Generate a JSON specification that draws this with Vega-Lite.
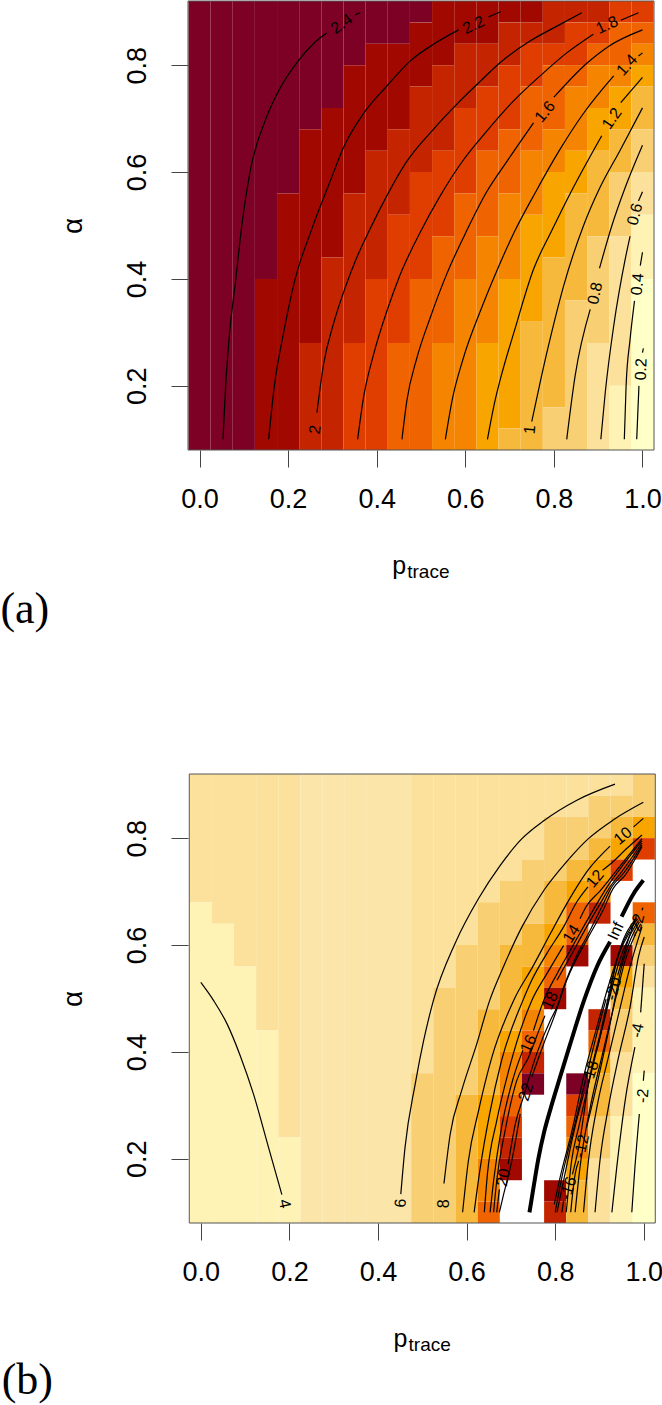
{"$schema":"https://vega.github.io/schema/vega-lite/v6.json","padding":{"left":0,"top":0,"right":0,"bottom":0},"background":"white","spacing":141,
"config":{"view":{"stroke":null},"axis":{"grid":false,"domain":false,"tickSize":17,"tickWidth":1,"tickColor":"#444","labelFont":"Liberation Sans","labelFontSize":27,"labelColor":"#000","titleFont":"Liberation Sans","titleFontWeight":"normal","titleFontSize":28,"titleColor":"#000"}},
"datasets":{
"cellsA":[
{"p0":-0.025,"p1":0.025,"a0":0.08,"a1":0.92,"z":"L01"},{"p0":0.025,"p1":0.075,"a0":0.08,"a1":0.92,"z":"L01"},{"p0":0.075,"p1":0.125,"a0":0.08,"a1":0.92,"z":"L01"},
{"p0":0.125,"p1":0.175,"a0":0.40,"a1":0.92,"z":"L01"},{"p0":0.125,"p1":0.175,"a0":0.08,"a1":0.40,"z":"L02"},
{"p0":0.175,"p1":0.225,"a0":0.56,"a1":0.92,"z":"L01"},{"p0":0.175,"p1":0.225,"a0":0.08,"a1":0.56,"z":"L02"},
{"p0":0.225,"p1":0.275,"a0":0.68,"a1":0.92,"z":"L01"},{"p0":0.225,"p1":0.275,"a0":0.28,"a1":0.68,"z":"L02"},{"p0":0.225,"p1":0.275,"a0":0.08,"a1":0.28,"z":"L03"},
{"p0":0.275,"p1":0.325,"a0":0.72,"a1":0.92,"z":"L01"},{"p0":0.275,"p1":0.325,"a0":0.44,"a1":0.72,"z":"L02"},{"p0":0.275,"p1":0.325,"a0":0.08,"a1":0.44,"z":"L03"},
{"p0":0.325,"p1":0.375,"a0":0.80,"a1":0.92,"z":"L01"},{"p0":0.325,"p1":0.375,"a0":0.56,"a1":0.80,"z":"L02"},{"p0":0.325,"p1":0.375,"a0":0.28,"a1":0.56,"z":"L03"},{"p0":0.325,"p1":0.375,"a0":0.08,"a1":0.28,"z":"L04"},
{"p0":0.375,"p1":0.425,"a0":0.84,"a1":0.92,"z":"L01"},{"p0":0.375,"p1":0.425,"a0":0.64,"a1":0.84,"z":"L02"},{"p0":0.375,"p1":0.425,"a0":0.40,"a1":0.64,"z":"L03"},{"p0":0.375,"p1":0.425,"a0":0.08,"a1":0.40,"z":"L04"},
{"p0":0.425,"p1":0.475,"a0":0.84,"a1":0.92,"z":"L01"},{"p0":0.425,"p1":0.475,"a0":0.68,"a1":0.84,"z":"L02"},{"p0":0.425,"p1":0.475,"a0":0.52,"a1":0.68,"z":"L03"},{"p0":0.425,"p1":0.475,"a0":0.28,"a1":0.52,"z":"L04"},{"p0":0.425,"p1":0.475,"a0":0.08,"a1":0.28,"z":"L05"},
{"p0":0.475,"p1":0.525,"a0":0.88,"a1":0.92,"z":"L01"},{"p0":0.475,"p1":0.525,"a0":0.76,"a1":0.88,"z":"L02"},{"p0":0.475,"p1":0.525,"a0":0.60,"a1":0.76,"z":"L03"},{"p0":0.475,"p1":0.525,"a0":0.40,"a1":0.60,"z":"L04"},{"p0":0.475,"p1":0.525,"a0":0.08,"a1":0.40,"z":"L05"},
{"p0":0.525,"p1":0.575,"a0":0.80,"a1":0.92,"z":"L02"},{"p0":0.525,"p1":0.575,"a0":0.64,"a1":0.80,"z":"L03"},{"p0":0.525,"p1":0.575,"a0":0.48,"a1":0.64,"z":"L04"},{"p0":0.525,"p1":0.575,"a0":0.28,"a1":0.48,"z":"L05"},{"p0":0.525,"p1":0.575,"a0":0.08,"a1":0.28,"z":"L06"},
{"p0":0.575,"p1":0.625,"a0":0.84,"a1":0.92,"z":"L02"},{"p0":0.575,"p1":0.625,"a0":0.72,"a1":0.84,"z":"L03"},{"p0":0.575,"p1":0.625,"a0":0.56,"a1":0.72,"z":"L04"},{"p0":0.575,"p1":0.625,"a0":0.40,"a1":0.56,"z":"L05"},{"p0":0.575,"p1":0.625,"a0":0.08,"a1":0.40,"z":"L06"},
{"p0":0.625,"p1":0.675,"a0":0.84,"a1":0.92,"z":"L02"},{"p0":0.625,"p1":0.675,"a0":0.76,"a1":0.84,"z":"L03"},{"p0":0.625,"p1":0.675,"a0":0.64,"a1":0.76,"z":"L04"},{"p0":0.625,"p1":0.675,"a0":0.48,"a1":0.64,"z":"L05"},{"p0":0.625,"p1":0.675,"a0":0.28,"a1":0.48,"z":"L06"},{"p0":0.625,"p1":0.675,"a0":0.08,"a1":0.28,"z":"L07"},
{"p0":0.675,"p1":0.725,"a0":0.88,"a1":0.92,"z":"L02"},{"p0":0.675,"p1":0.725,"a0":0.80,"a1":0.88,"z":"L03"},{"p0":0.675,"p1":0.725,"a0":0.68,"a1":0.80,"z":"L04"},{"p0":0.675,"p1":0.725,"a0":0.56,"a1":0.68,"z":"L05"},{"p0":0.675,"p1":0.725,"a0":0.40,"a1":0.56,"z":"L06"},{"p0":0.675,"p1":0.725,"a0":0.12,"a1":0.40,"z":"L07"},{"p0":0.675,"p1":0.725,"a0":0.08,"a1":0.12,"z":"L08"},
{"p0":0.725,"p1":0.775,"a0":0.88,"a1":0.92,"z":"L02"},{"p0":0.725,"p1":0.775,"a0":0.84,"a1":0.88,"z":"L03"},{"p0":0.725,"p1":0.775,"a0":0.76,"a1":0.84,"z":"L04"},{"p0":0.725,"p1":0.775,"a0":0.64,"a1":0.76,"z":"L05"},{"p0":0.725,"p1":0.775,"a0":0.52,"a1":0.64,"z":"L06"},{"p0":0.725,"p1":0.775,"a0":0.32,"a1":0.52,"z":"L07"},{"p0":0.725,"p1":0.775,"a0":0.08,"a1":0.32,"z":"L08"},
{"p0":0.775,"p1":0.825,"a0":0.84,"a1":0.92,"z":"L03"},{"p0":0.775,"p1":0.825,"a0":0.80,"a1":0.84,"z":"L04"},{"p0":0.775,"p1":0.825,"a0":0.68,"a1":0.80,"z":"L05"},{"p0":0.775,"p1":0.825,"a0":0.60,"a1":0.68,"z":"L06"},{"p0":0.775,"p1":0.825,"a0":0.44,"a1":0.60,"z":"L07"},{"p0":0.775,"p1":0.825,"a0":0.16,"a1":0.44,"z":"L08"},{"p0":0.775,"p1":0.825,"a0":0.08,"a1":0.16,"z":"L09"},
{"p0":0.825,"p1":0.875,"a0":0.88,"a1":0.92,"z":"L03"},{"p0":0.825,"p1":0.875,"a0":0.80,"a1":0.88,"z":"L04"},{"p0":0.825,"p1":0.875,"a0":0.76,"a1":0.80,"z":"L05"},{"p0":0.825,"p1":0.875,"a0":0.64,"a1":0.76,"z":"L06"},{"p0":0.825,"p1":0.875,"a0":0.56,"a1":0.64,"z":"L07"},{"p0":0.825,"p1":0.875,"a0":0.36,"a1":0.56,"z":"L08"},{"p0":0.825,"p1":0.875,"a0":0.08,"a1":0.36,"z":"L09"},
{"p0":0.875,"p1":0.925,"a0":0.88,"a1":0.92,"z":"L03"},{"p0":0.875,"p1":0.925,"a0":0.84,"a1":0.88,"z":"L04"},{"p0":0.875,"p1":0.925,"a0":0.80,"a1":0.84,"z":"L05"},{"p0":0.875,"p1":0.925,"a0":0.72,"a1":0.80,"z":"L06"},{"p0":0.875,"p1":0.925,"a0":0.64,"a1":0.72,"z":"L07"},{"p0":0.875,"p1":0.925,"a0":0.48,"a1":0.64,"z":"L08"},{"p0":0.875,"p1":0.925,"a0":0.28,"a1":0.48,"z":"L09"},{"p0":0.875,"p1":0.925,"a0":0.08,"a1":0.28,"z":"L10"},
{"p0":0.925,"p1":0.975,"a0":0.88,"a1":0.92,"z":"L04"},{"p0":0.925,"p1":0.975,"a0":0.80,"a1":0.88,"z":"L05"},{"p0":0.925,"p1":0.975,"a0":0.76,"a1":0.80,"z":"L06"},{"p0":0.925,"p1":0.975,"a0":0.68,"a1":0.76,"z":"L07"},{"p0":0.925,"p1":0.975,"a0":0.60,"a1":0.68,"z":"L08"},{"p0":0.925,"p1":0.975,"a0":0.48,"a1":0.60,"z":"L09"},{"p0":0.925,"p1":0.975,"a0":0.20,"a1":0.48,"z":"L10"},{"p0":0.925,"p1":0.975,"a0":0.08,"a1":0.20,"z":"L11"},
{"p0":0.975,"p1":1.025,"a0":0.88,"a1":0.92,"z":"L04"},{"p0":0.975,"p1":1.025,"a0":0.84,"a1":0.88,"z":"L05"},{"p0":0.975,"p1":1.025,"a0":0.80,"a1":0.84,"z":"L06"},{"p0":0.975,"p1":1.025,"a0":0.76,"a1":0.80,"z":"L07"},{"p0":0.975,"p1":1.025,"a0":0.68,"a1":0.76,"z":"L08"},{"p0":0.975,"p1":1.025,"a0":0.60,"a1":0.68,"z":"L09"},{"p0":0.975,"p1":1.025,"a0":0.52,"a1":0.60,"z":"L10"},{"p0":0.975,"p1":1.025,"a0":0.40,"a1":0.52,"z":"L11"},{"p0":0.975,"p1":1.025,"a0":0.08,"a1":0.40,"z":"L12"}
],
"cellsB":[
{"p0":-0.025,"p1":0.025,"a0":0.68,"a1":0.92,"z":"L10"},{"p0":-0.025,"p1":0.025,"a0":0.08,"a1":0.68,"z":"L11"},
{"p0":0.025,"p1":0.075,"a0":0.64,"a1":0.92,"z":"L10"},{"p0":0.025,"p1":0.075,"a0":0.08,"a1":0.64,"z":"L11"},
{"p0":0.075,"p1":0.125,"a0":0.56,"a1":0.92,"z":"L10"},{"p0":0.075,"p1":0.125,"a0":0.08,"a1":0.56,"z":"L11"},
{"p0":0.125,"p1":0.175,"a0":0.44,"a1":0.92,"z":"L10"},{"p0":0.125,"p1":0.175,"a0":0.08,"a1":0.44,"z":"L11"},
{"p0":0.175,"p1":0.225,"a0":0.24,"a1":0.92,"z":"L10"},{"p0":0.175,"p1":0.225,"a0":0.08,"a1":0.24,"z":"L11"},
{"p0":0.225,"p1":0.275,"a0":0.08,"a1":0.92,"z":"L10b"},{"p0":0.275,"p1":0.325,"a0":0.08,"a1":0.92,"z":"L10b"},{"p0":0.325,"p1":0.375,"a0":0.08,"a1":0.92,"z":"L10b"},{"p0":0.375,"p1":0.425,"a0":0.08,"a1":0.92,"z":"L10b"},{"p0":0.425,"p1":0.475,"a0":0.08,"a1":0.92,"z":"L10b"},
{"p0":0.475,"p1":0.525,"a0":0.36,"a1":0.92,"z":"L10"},{"p0":0.475,"p1":0.525,"a0":0.08,"a1":0.36,"z":"L09"},
{"p0":0.525,"p1":0.575,"a0":0.52,"a1":0.92,"z":"L10"},{"p0":0.525,"p1":0.575,"a0":0.08,"a1":0.52,"z":"L09"},
{"p0":0.575,"p1":0.625,"a0":0.60,"a1":0.92,"z":"L10"},{"p0":0.575,"p1":0.625,"a0":0.32,"a1":0.60,"z":"L09"},{"p0":0.575,"p1":0.625,"a0":0.08,"a1":0.32,"z":"L08"},
{"p0":0.625,"p1":0.675,"a0":0.68,"a1":0.92,"z":"L10"},{"p0":0.625,"p1":0.675,"a0":0.48,"a1":0.68,"z":"L09"},{"p0":0.625,"p1":0.675,"a0":0.32,"a1":0.48,"z":"L08"},{"p0":0.625,"p1":0.675,"a0":0.20,"a1":0.32,"z":"L07"},{"p0":0.625,"p1":0.675,"a0":0.12,"a1":0.20,"z":"L06"},{"p0":0.625,"p1":0.675,"a0":0.08,"a1":0.12,"z":"L05"},
{"p0":0.675,"p1":0.725,"a0":0.72,"a1":0.92,"z":"L10"},{"p0":0.675,"p1":0.725,"a0":0.60,"a1":0.72,"z":"L09"},{"p0":0.675,"p1":0.725,"a0":0.44,"a1":0.60,"z":"L08"},{"p0":0.675,"p1":0.725,"a0":0.40,"a1":0.44,"z":"L07"},{"p0":0.675,"p1":0.725,"a0":0.32,"a1":0.40,"z":"L06"},{"p0":0.675,"p1":0.725,"a0":0.28,"a1":0.32,"z":"L05"},{"p0":0.675,"p1":0.725,"a0":0.24,"a1":0.28,"z":"L04"},{"p0":0.675,"p1":0.725,"a0":0.20,"a1":0.24,"z":"L03"},{"p0":0.675,"p1":0.725,"a0":0.16,"a1":0.20,"z":"L02"},
{"p0":0.725,"p1":0.775,"a0":0.76,"a1":0.92,"z":"L10"},{"p0":0.725,"p1":0.775,"a0":0.64,"a1":0.76,"z":"L09"},{"p0":0.725,"p1":0.775,"a0":0.56,"a1":0.64,"z":"L08"},{"p0":0.725,"p1":0.775,"a0":0.48,"a1":0.56,"z":"L07"},{"p0":0.725,"p1":0.775,"a0":0.44,"a1":0.48,"z":"L06"},{"p0":0.725,"p1":0.775,"a0":0.40,"a1":0.44,"z":"L05"},{"p0":0.725,"p1":0.775,"a0":0.36,"a1":0.40,"z":"L03"},{"p0":0.725,"p1":0.775,"a0":0.32,"a1":0.36,"z":"L01"},
{"p0":0.775,"p1":0.825,"a0":0.84,"a1":0.92,"z":"L10"},{"p0":0.775,"p1":0.825,"a0":0.72,"a1":0.84,"z":"L09"},{"p0":0.775,"p1":0.825,"a0":0.64,"a1":0.72,"z":"L08"},{"p0":0.775,"p1":0.825,"a0":0.60,"a1":0.64,"z":"L07"},{"p0":0.775,"p1":0.825,"a0":0.56,"a1":0.60,"z":"L06"},{"p0":0.775,"p1":0.825,"a0":0.52,"a1":0.56,"z":"L05"},{"p0":0.775,"p1":0.825,"a0":0.48,"a1":0.52,"z":"L02"},{"p0":0.775,"p1":0.825,"a0":0.12,"a1":0.16,"z":"L02"},{"p0":0.775,"p1":0.825,"a0":0.08,"a1":0.12,"z":"L03"},
{"p0":0.825,"p1":0.875,"a0":0.84,"a1":0.92,"z":"L10"},{"p0":0.825,"p1":0.875,"a0":0.76,"a1":0.84,"z":"L09"},{"p0":0.825,"p1":0.875,"a0":0.72,"a1":0.76,"z":"L08"},{"p0":0.825,"p1":0.875,"a0":0.68,"a1":0.72,"z":"L07"},{"p0":0.825,"p1":0.875,"a0":0.60,"a1":0.68,"z":"L05"},{"p0":0.825,"p1":0.875,"a0":0.56,"a1":0.60,"z":"L02"},{"p0":0.825,"p1":0.875,"a0":0.32,"a1":0.36,"z":"L01"},{"p0":0.825,"p1":0.875,"a0":0.28,"a1":0.32,"z":"L04"},{"p0":0.825,"p1":0.875,"a0":0.24,"a1":0.28,"z":"L05"},{"p0":0.825,"p1":0.875,"a0":0.20,"a1":0.24,"z":"L06"},{"p0":0.825,"p1":0.875,"a0":0.16,"a1":0.20,"z":"L07"},{"p0":0.825,"p1":0.875,"a0":0.08,"a1":0.16,"z":"L08"},
{"p0":0.875,"p1":0.925,"a0":0.88,"a1":0.92,"z":"L10"},{"p0":0.875,"p1":0.925,"a0":0.80,"a1":0.88,"z":"L09"},{"p0":0.875,"p1":0.925,"a0":0.76,"a1":0.80,"z":"L08"},{"p0":0.875,"p1":0.925,"a0":0.72,"a1":0.76,"z":"L07"},{"p0":0.875,"p1":0.925,"a0":0.68,"a1":0.72,"z":"L06"},{"p0":0.875,"p1":0.925,"a0":0.64,"a1":0.68,"z":"L03"},{"p0":0.875,"p1":0.925,"a0":0.44,"a1":0.48,"z":"L03"},{"p0":0.875,"p1":0.925,"a0":0.40,"a1":0.44,"z":"L05"},{"p0":0.875,"p1":0.925,"a0":0.36,"a1":0.40,"z":"L07"},{"p0":0.875,"p1":0.925,"a0":0.28,"a1":0.36,"z":"L08"},{"p0":0.875,"p1":0.925,"a0":0.20,"a1":0.28,"z":"L09"},{"p0":0.875,"p1":0.925,"a0":0.08,"a1":0.20,"z":"L10"},
{"p0":0.925,"p1":0.975,"a0":0.88,"a1":0.92,"z":"L10"},{"p0":0.925,"p1":0.975,"a0":0.84,"a1":0.88,"z":"L09"},{"p0":0.925,"p1":0.975,"a0":0.80,"a1":0.84,"z":"L08"},{"p0":0.925,"p1":0.975,"a0":0.76,"a1":0.80,"z":"L07"},{"p0":0.925,"p1":0.975,"a0":0.72,"a1":0.76,"z":"L04"},{"p0":0.925,"p1":0.975,"a0":0.56,"a1":0.60,"z":"L02"},{"p0":0.925,"p1":0.975,"a0":0.52,"a1":0.56,"z":"L07"},{"p0":0.925,"p1":0.975,"a0":0.48,"a1":0.52,"z":"L08"},{"p0":0.925,"p1":0.975,"a0":0.40,"a1":0.48,"z":"L09"},{"p0":0.925,"p1":0.975,"a0":0.28,"a1":0.40,"z":"L10"},{"p0":0.925,"p1":0.975,"a0":0.08,"a1":0.28,"z":"L11"},
{"p0":0.975,"p1":1.025,"a0":0.84,"a1":0.92,"z":"L09"},{"p0":0.975,"p1":1.025,"a0":0.80,"a1":0.84,"z":"L07"},{"p0":0.975,"p1":1.025,"a0":0.76,"a1":0.80,"z":"L04"},{"p0":0.975,"p1":1.025,"a0":0.64,"a1":0.68,"z":"L05"},{"p0":0.975,"p1":1.025,"a0":0.60,"a1":0.64,"z":"L08"},{"p0":0.975,"p1":1.025,"a0":0.56,"a1":0.60,"z":"L09"},{"p0":0.975,"p1":1.025,"a0":0.52,"a1":0.56,"z":"L10"},{"p0":0.975,"p1":1.025,"a0":0.36,"a1":0.52,"z":"L11"},{"p0":0.975,"p1":1.025,"a0":0.08,"a1":0.36,"z":"L12"}
],
"linesA":[
{"c":"2.4a","p":0.053,"a":0.1},{"c":"2.4a","p":0.059,"a":0.2},{"c":"2.4a","p":0.068,"a":0.3},{"c":"2.4a","p":0.082,"a":0.4},{"c":"2.4a","p":0.094,"a":0.49},{"c":"2.4a","p":0.114,"a":0.6},{"c":"2.4a","p":0.15,"a":0.7},{"c":"2.4a","p":0.182,"a":0.757},{"c":"2.4a","p":0.223,"a":0.808},{"c":"2.4a","p":0.257,"a":0.84},{"c":"2.4a","p":0.287,"a":0.86},
{"c":"2.4b","p":0.351,"a":0.894},{"c":"2.4b","p":0.363,"a":0.898},
{"c":"2.2a","p":0.156,"a":0.1},{"c":"2.2a","p":0.169,"a":0.2},{"c":"2.2a","p":0.19,"a":0.3},{"c":"2.2a","p":0.216,"a":0.4},{"c":"2.2a","p":0.252,"a":0.49},{"c":"2.2a","p":0.296,"a":0.585},{"c":"2.2a","p":0.325,"a":0.646},{"c":"2.2a","p":0.374,"a":0.714},{"c":"2.2a","p":0.423,"a":0.761},{"c":"2.2a","p":0.476,"a":0.808},{"c":"2.2a","p":0.528,"a":0.839},{"c":"2.2a","p":0.585,"a":0.866},
{"c":"2.2b","p":0.652,"a":0.89},{"c":"2.2b","p":0.68,"a":0.9},
{"c":"2","p":0.265,"a":0.15},{"c":"2","p":0.28,"a":0.24},{"c":"2","p":0.302,"a":0.315},{"c":"2","p":0.329,"a":0.384},{"c":"2","p":0.355,"a":0.44},{"c":"2","p":0.383,"a":0.49},{"c":"2","p":0.413,"a":0.54},{"c":"2","p":0.468,"a":0.62},{"c":"2","p":0.528,"a":0.68},{"c":"2","p":0.581,"a":0.727},{"c":"2","p":0.634,"a":0.77},{"c":"2","p":0.679,"a":0.805},{"c":"2","p":0.746,"a":0.845},{"c":"2","p":0.807,"a":0.873},{"c":"2","p":0.863,"a":0.898},
{"c":"1.8a","p":0.357,"a":0.1},{"c":"1.8a","p":0.369,"a":0.172},{"c":"1.8a","p":0.393,"a":0.259},{"c":"1.8a","p":0.423,"a":0.34},{"c":"1.8a","p":0.452,"a":0.406},{"c":"1.8a","p":0.5,"a":0.49},{"c":"1.8a","p":0.543,"a":0.555},{"c":"1.8a","p":0.596,"a":0.623},{"c":"1.8a","p":0.649,"a":0.677},{"c":"1.8a","p":0.709,"a":0.733},{"c":"1.8a","p":0.769,"a":0.78},{"c":"1.8a","p":0.829,"a":0.823},{"c":"1.8a","p":0.889,"a":0.858},
{"c":"1.8b","p":0.951,"a":0.884},{"c":"1.8b","p":0.991,"a":0.898},
{"c":"1.6a","p":0.457,"a":0.1},{"c":"1.6a","p":0.468,"a":0.172},{"c":"1.6a","p":0.491,"a":0.253},{"c":"1.6a","p":0.521,"a":0.328},{"c":"1.6a","p":0.558,"a":0.409},{"c":"1.6a","p":0.603,"a":0.49},{"c":"1.6a","p":0.649,"a":0.564},{"c":"1.6a","p":0.694,"a":0.62},{"c":"1.6a","p":0.754,"a":0.692},
{"c":"1.6b","p":0.8,"a":0.74},{"c":"1.6b","p":0.875,"a":0.804},{"c":"1.6b","p":0.925,"a":0.836},{"c":"1.6b","p":1.0,"a":0.866},
{"c":"1.4a","p":0.555,"a":0.1},{"c":"1.4a","p":0.57,"a":0.172},{"c":"1.4a","p":0.596,"a":0.253},{"c":"1.4a","p":0.634,"a":0.34},{"c":"1.4a","p":0.671,"a":0.415},{"c":"1.4a","p":0.712,"a":0.49},{"c":"1.4a","p":0.757,"a":0.56},{"c":"1.4a","p":0.812,"a":0.64},{"c":"1.4a","p":0.867,"a":0.71},{"c":"1.4a","p":0.935,"a":0.78},
{"c":"1.4b","p":0.991,"a":0.817},{"c":"1.4b","p":1.0,"a":0.823},
{"c":"1.2a","p":0.65,"a":0.1},{"c":"1.2a","p":0.667,"a":0.172},{"c":"1.2a","p":0.679,"a":0.212},{"c":"1.2a","p":0.712,"a":0.306},{"c":"1.2a","p":0.754,"a":0.418},{"c":"1.2a","p":0.795,"a":0.49},{"c":"1.2a","p":0.84,"a":0.565},{"c":"1.2a","p":0.908,"a":0.668},
{"c":"1.2b","p":0.951,"a":0.73},{"c":"1.2b","p":1.0,"a":0.777},
{"c":"1","p":0.75,"a":0.133},{"c":"1","p":0.773,"a":0.222},{"c":"1","p":0.795,"a":0.3},{"c":"1","p":0.822,"a":0.387},{"c":"1","p":0.867,"a":0.5},{"c":"1","p":0.904,"a":0.571},{"c":"1","p":0.949,"a":0.64},{"c":"1","p":1.0,"a":0.72},
{"c":"0.8a","p":0.829,"a":0.1},{"c":"0.8a","p":0.848,"a":0.219},{"c":"0.8a","p":0.882,"a":0.343},
{"c":"0.8b","p":0.903,"a":0.42},{"c":"0.8b","p":0.931,"a":0.5},{"c":"0.8b","p":0.961,"a":0.571},{"c":"0.8b","p":1.0,"a":0.65},
{"c":"0.6a","p":0.906,"a":0.1},{"c":"0.6a","p":0.916,"a":0.188},{"c":"0.6a","p":0.935,"a":0.312},{"c":"0.6a","p":0.961,"a":0.437},{"c":"0.6a","p":0.972,"a":0.48},
{"c":"0.6b","p":0.991,"a":0.546},{"c":"0.6b","p":1.0,"a":0.563},
{"c":"0.4a","p":0.959,"a":0.1},{"c":"0.4a","p":0.963,"a":0.2},{"c":"0.4a","p":0.972,"a":0.287},{"c":"0.4a","p":0.982,"a":0.359},
{"c":"0.4b","p":0.995,"a":0.425},{"c":"0.4b","p":1.0,"a":0.45},
{"c":"0.2a","p":0.987,"a":0.1},{"c":"0.2a","p":0.992,"a":0.2},
{"c":"0.2b","p":1.0,"a":0.262},{"c":"0.2b","p":1.002,"a":0.27}
],
"labelsA":[
{"t":"2.4","p":0.321,"a":0.877,"ang":-35},{"t":"2.2","p":0.619,"a":0.875,"ang":-25},{"t":"2","p":0.261,"a":0.118,"ang":-82},{"t":"1.8","p":0.92,"a":0.875,"ang":-25},{"t":"1.6","p":0.78,"a":0.713,"ang":-50},{"t":"1.4","p":0.965,"a":0.8,"ang":-48},{"t":"1.2","p":0.931,"a":0.7,"ang":-55},{"t":"1","p":0.746,"a":0.118,"ang":-85},{"t":"0.8","p":0.893,"a":0.373,"ang":-78},{"t":"0.6","p":0.983,"a":0.521,"ang":-75},{"t":"0.4","p":0.989,"a":0.39,"ang":-85},{"t":"0.2","p":0.997,"a":0.231,"ang":-88}
],
"linesB":[
{"c":"4","p":0.0,"a":0.53},{"c":"4","p":0.029,"a":0.496},{"c":"4","p":0.059,"a":0.453},{"c":"4","p":0.089,"a":0.393},{"c":"4","p":0.119,"a":0.321},{"c":"4","p":0.153,"a":0.221},{"c":"4","p":0.183,"a":0.133},
{"c":"6","p":0.4515,"a":0.134},{"c":"6","p":0.461,"a":0.221},{"c":"6","p":0.484,"a":0.34},{"c":"6","p":0.503,"a":0.421},{"c":"6","p":0.525,"a":0.496},{"c":"6","p":0.574,"a":0.603},{"c":"6","p":0.627,"a":0.687},{"c":"6","p":0.676,"a":0.749},{"c":"6","p":0.725,"a":0.799},{"c":"6","p":0.775,"a":0.833},{"c":"6","p":0.849,"a":0.871},{"c":"6","p":0.935,"a":0.901},
{"c":"8","p":0.549,"a":0.154},{"c":"8","p":0.563,"a":0.246},{"c":"8","p":0.589,"a":0.328},{"c":"8","p":0.623,"a":0.415},{"c":"8","p":0.652,"a":0.496},{"c":"8","p":0.683,"a":0.559},{"c":"8","p":0.725,"a":0.634},{"c":"8","p":0.775,"a":0.703},{"c":"8","p":0.826,"a":0.756},{"c":"8","p":0.875,"a":0.799},{"c":"8","p":0.931,"a":0.834},{"c":"8","p":0.999,"a":0.867},
{"c":"10a","p":0.591,"a":0.1},{"c":"10a","p":0.604,"a":0.196},{"c":"10a","p":0.627,"a":0.29},{"c":"10a","p":0.657,"a":0.39},{"c":"10a","p":0.706,"a":0.496},{"c":"10a","p":0.751,"a":0.562},{"c":"10a","p":0.789,"a":0.621},{"c":"10a","p":0.826,"a":0.677},{"c":"10a","p":0.875,"a":0.741},{"c":"10a","p":0.924,"a":0.785},
{"c":"10b","p":0.977,"a":0.821},{"c":"10b","p":0.999,"a":0.837},
{"c":"12a","p":0.617,"a":0.1},{"c":"12a","p":0.631,"a":0.184},{"c":"12a","p":0.652,"a":0.284},{"c":"12a","p":0.679,"a":0.384},{"c":"12a","p":0.727,"a":0.496},{"c":"12a","p":0.747,"a":0.534},{"c":"12a","p":0.781,"a":0.584},{"c":"12a","p":0.819,"a":0.634},{"c":"12a","p":0.849,"a":0.681},{"c":"12a","p":0.874,"a":0.709},
{"c":"12b","p":0.907,"a":0.74},{"c":"12b","p":0.924,"a":0.751},{"c":"12b","p":0.962,"a":0.781},{"c":"12b","p":0.996,"a":0.806},
{"c":"14a","p":0.64,"a":0.1},{"c":"14a","p":0.647,"a":0.171},{"c":"14a","p":0.668,"a":0.271},{"c":"14a","p":0.695,"a":0.365},{"c":"14a","p":0.747,"a":0.496},{"c":"14a","p":0.781,"a":0.546},{"c":"14a","p":0.819,"a":0.599},
{"c":"14b","p":0.856,"a":0.649},{"c":"14b","p":0.87,"a":0.672},{"c":"14b","p":0.902,"a":0.702},{"c":"14b","p":0.939,"a":0.74},{"c":"14b","p":0.996,"a":0.799},
{"c":"16a","p":0.653,"a":0.1},{"c":"16a","p":0.661,"a":0.159},{"c":"16a","p":0.679,"a":0.259},{"c":"16a","p":0.706,"a":0.353},{"c":"16a","p":0.727,"a":0.403},
{"c":"16b","p":0.751,"a":0.44},{"c":"16b","p":0.774,"a":0.496},{"c":"16b","p":0.804,"a":0.546},{"c":"16b","p":0.834,"a":0.59},{"c":"16b","p":0.868,"a":0.64},{"c":"16b","p":0.894,"a":0.677},{"c":"16b","p":0.92,"a":0.712},{"c":"16b","p":0.947,"a":0.743},{"c":"16b","p":0.996,"a":0.795},
{"c":"18a","p":0.661,"a":0.1},{"c":"18a","p":0.668,"a":0.159},{"c":"18a","p":0.687,"a":0.253},{"c":"18a","p":0.713,"a":0.346},{"c":"18a","p":0.74,"a":0.39},{"c":"18a","p":0.766,"a":0.446},{"c":"18a","p":0.777,"a":0.468},
{"c":"18b","p":0.804,"a":0.534},{"c":"18b","p":0.834,"a":0.578},{"c":"18b","p":0.871,"a":0.634},{"c":"18b","p":0.902,"a":0.678},{"c":"18b","p":0.924,"a":0.709},{"c":"18b","p":0.95,"a":0.737},{"c":"18b","p":0.996,"a":0.791},
{"c":"20a","p":0.668,"a":0.1},{"c":"20a","p":0.674,"a":0.143},
{"c":"20b","p":0.694,"a":0.19},{"c":"20b","p":0.71,"a":0.265},{"c":"20b","p":0.728,"a":0.315},{"c":"20b","p":0.758,"a":0.396},{"c":"20b","p":0.789,"a":0.459},{"c":"20b","p":0.804,"a":0.484},{"c":"20b","p":0.819,"a":0.521},{"c":"20b","p":0.845,"a":0.574},{"c":"20b","p":0.875,"a":0.621},{"c":"20b","p":0.905,"a":0.671},{"c":"20b","p":0.928,"a":0.709},{"c":"20b","p":0.954,"a":0.734},{"c":"20b","p":0.996,"a":0.787},
{"c":"22a","p":0.674,"a":0.1},{"c":"22a","p":0.682,"a":0.128},{"c":"22a","p":0.702,"a":0.196},{"c":"22a","p":0.721,"a":0.284},
{"c":"22b","p":0.747,"a":0.353},{"c":"22b","p":0.774,"a":0.415},{"c":"22b","p":0.8,"a":0.471},{"c":"22b","p":0.826,"a":0.534},{"c":"22b","p":0.875,"a":0.615},{"c":"22b","p":0.908,"a":0.665},{"c":"22b","p":0.931,"a":0.706},{"c":"22b","p":0.958,"a":0.731},{"c":"22b","p":0.996,"a":0.784},
{"c":"-2a","p":0.973,"a":0.1},{"c":"-2a","p":0.98,"a":0.184},{"c":"-2a","p":0.99,"a":0.284},
{"c":"-2b","p":0.999,"a":0.346},{"c":"-2b","p":1.001,"a":0.365},
{"c":"-4a","p":0.928,"a":0.1},{"c":"-4a","p":0.939,"a":0.184},{"c":"-4a","p":0.958,"a":0.309},{"c":"-4a","p":0.98,"a":0.409},
{"c":"-4b","p":0.993,"a":0.474},{"c":"-4b","p":1.001,"a":0.565},
{"c":"-6","p":0.89,"a":0.1},{"c":"-6","p":0.901,"a":0.196},{"c":"-6","p":0.92,"a":0.296},{"c":"-6","p":0.943,"a":0.39},{"c":"-6","p":0.969,"a":0.484},{"c":"-6","p":0.988,"a":0.578},{"c":"-6","p":1.001,"a":0.615},
{"c":"-8","p":0.864,"a":0.1},{"c":"-8","p":0.875,"a":0.196},{"c":"-8","p":0.894,"a":0.296},{"c":"-8","p":0.92,"a":0.39},{"c":"-8","p":0.947,"a":0.484},{"c":"-8","p":0.969,"a":0.559},{"c":"-8","p":0.996,"a":0.634},
{"c":"-10","p":0.845,"a":0.1},{"c":"-10","p":0.856,"a":0.184},{"c":"-10","p":0.879,"a":0.296},{"c":"-10","p":0.905,"a":0.39},{"c":"-10","p":0.932,"a":0.484},{"c":"-10","p":0.958,"a":0.571},{"c":"-10","p":0.993,"a":0.64},
{"c":"-12a","p":0.835,"a":0.1},{"c":"-12a","p":0.845,"a":0.171},{"c":"-12a","p":0.853,"a":0.196},
{"c":"-12b","p":0.871,"a":0.259},{"c":"-12b","p":0.898,"a":0.353},{"c":"-12b","p":0.924,"a":0.453},{"c":"-12b","p":0.95,"a":0.559},{"c":"-12b","p":0.99,"a":0.643},
{"c":"-14","p":0.825,"a":0.1},{"c":"-14","p":0.837,"a":0.196},{"c":"-14","p":0.853,"a":0.259},{"c":"-14","p":0.879,"a":0.353},{"c":"-14","p":0.909,"a":0.453},{"c":"-14","p":0.943,"a":0.565},{"c":"-14","p":0.988,"a":0.646},
{"c":"-16a","p":0.815,"a":0.1},{"c":"-16a","p":0.819,"a":0.121},
{"c":"-16b","p":0.839,"a":0.171},{"c":"-16b","p":0.853,"a":0.221},{"c":"-16b","p":0.875,"a":0.34},{"c":"-16b","p":0.905,"a":0.446},{"c":"-16b","p":0.939,"a":0.571},{"c":"-16b","p":0.986,"a":0.649},
{"c":"-18a","p":0.804,"a":0.1},{"c":"-18a","p":0.819,"a":0.159},{"c":"-18a","p":0.841,"a":0.246},{"c":"-18a","p":0.864,"a":0.321},
{"c":"-18b","p":0.894,"a":0.403},{"c":"-18b","p":0.92,"a":0.496},{"c":"-18b","p":0.939,"a":0.571},{"c":"-18b","p":0.984,"a":0.651},
{"c":"-20a","p":0.8,"a":0.1},{"c":"-20a","p":0.815,"a":0.165},{"c":"-20a","p":0.841,"a":0.253},{"c":"-20a","p":0.868,"a":0.346},{"c":"-20a","p":0.894,"a":0.434},{"c":"-20a","p":0.915,"a":0.499},
{"c":"-20b","p":0.941,"a":0.543},{"c":"-20b","p":0.962,"a":0.602},{"c":"-20b","p":0.983,"a":0.654},
{"c":"-22a","p":0.798,"a":0.115},{"c":"-22a","p":0.811,"a":0.165},{"c":"-22a","p":0.838,"a":0.253},{"c":"-22a","p":0.864,"a":0.353},{"c":"-22a","p":0.894,"a":0.446},{"c":"-22a","p":0.917,"a":0.515},{"c":"-22a","p":0.947,"a":0.59},{"c":"-22a","p":0.969,"a":0.625},
{"c":"-22b","p":0.996,"a":0.665},{"c":"-22b","p":0.998,"a":0.67}
],
"linesInf":[
{"c":"Infa","p":0.742,"a":0.1},{"c":"Infa","p":0.751,"a":0.146},{"c":"Infa","p":0.762,"a":0.2},{"c":"Infa","p":0.775,"a":0.25},{"c":"Infa","p":0.79,"a":0.295},{"c":"Infa","p":0.81,"a":0.35},{"c":"Infa","p":0.834,"a":0.415},{"c":"Infa","p":0.865,"a":0.496},{"c":"Infa","p":0.894,"a":0.559},{"c":"Infa","p":0.924,"a":0.606},
{"c":"Infb","p":0.95,"a":0.653},{"c":"Infb","p":0.977,"a":0.696},{"c":"Infb","p":0.999,"a":0.721}
],
"labelsB":[
{"t":"4","p":0.189,"a":0.116,"ang":78},{"t":"6","p":0.451,"a":0.117,"ang":-88},{"t":"8","p":0.548,"a":0.116,"ang":-90},{"t":"10","p":0.953,"a":0.804,"ang":-40},{"t":"12","p":0.89,"a":0.724,"ang":-50},{"t":"14","p":0.837,"a":0.621,"ang":-58},{"t":"16","p":0.74,"a":0.415,"ang":-65},{"t":"18","p":0.789,"a":0.496,"ang":-65},{"t":"20","p":0.683,"a":0.165,"ang":-78},{"t":"22","p":0.734,"a":0.325,"ang":-72},{"t":"Inf","p":0.937,"a":0.626,"ang":-65},{"t":"-2","p":0.998,"a":0.318,"ang":-85},{"t":"-4","p":0.986,"a":0.44,"ang":-78},{"t":"-12","p":0.86,"a":0.224,"ang":-78},{"t":"-16","p":0.83,"a":0.145,"ang":-72},{"t":"-18","p":0.88,"a":0.362,"ang":-72},{"t":"-20","p":0.932,"a":0.518,"ang":-75},{"t":"-22","p":0.984,"a":0.637,"ang":-75}
],
"frame":[{"p0":-0.026,"p1":1.026,"a0":0.08,"a1":0.92}],
"xlabelA":[{"t":"p","p":0.435,"a":-0.152,"s":"main"},{"t":"trace","p":0.469,"a":-0.159,"s":"sub"}],
"panelA":[{"t":"(a)","p":-0.4495,"a":-0.243}],
"panelB":[{"t":"(b)","p":-0.4495,"a":-0.24}]
},
"vconcat":[
{"width":466,"height":449,"layer":[
{"data":{"name":"cellsA"},"mark":{"type":"rect"},"encoding":{
"x":{"field":"p0","type":"quantitative","scale":{"domain":[-0.026,1.026],"nice":false,"zero":false},"axis":{"values":[0,0.2,0.4,0.6,0.8,1],"format":".1f","title":null,"labelPadding":19,"labelFlush":false}},
"x2":{"field":"p1"},
"y":{"field":"a0","type":"quantitative","scale":{"domain":[0.08,0.92],"nice":false,"zero":false},"axis":{"values":[0.2,0.4,0.6,0.8],"format":".1f","title":"α","titlePadding":36,"labelAngle":-90,"labelAlign":"center","labelBaseline":"bottom","labelPadding":20}},
"y2":{"field":"a1"},
"color":{"field":"z","type":"nominal","legend":null,"scale":{"domain":["L01","L02","L03","L04","L05","L06","L07","L08","L09","L10","L10b","L11","L12"],"range":["#7d0025","#a10800","#c42500","#e03e00","#ef6400","#f58500","#f8a500","#f7b93c","#f8cf72","#fbe19b","#fbe5a9","#fef2b4","#ffffc8"]}}}},
{"data":{"name":"linesA"},"mark":{"type":"line","color":"#000","strokeWidth":1.2,"interpolate":"monotone"},"encoding":{"x":{"field":"p","type":"quantitative"},"y":{"field":"a","type":"quantitative"},"detail":{"field":"c"}}},
{"data":{"name":"labelsA"},"mark":{"type":"text","font":"Liberation Sans","fontSize":16,"color":"#000"},"encoding":{"x":{"field":"p","type":"quantitative"},"y":{"field":"a","type":"quantitative"},"text":{"field":"t"},"angle":{"field":"ang","type":"quantitative","scale":null}}},
{"data":{"name":"frame"},"mark":{"type":"rect","fillOpacity":0,"stroke":"#555","strokeWidth":1},"encoding":{"x":{"field":"p0","type":"quantitative"},"x2":{"field":"p1"},"y":{"field":"a0","type":"quantitative"},"y2":{"field":"a1"}}},
{"data":{"name":"xlabelA"},"transform":[{"filter":"datum.s=='main'"}],"mark":{"type":"text","font":"Liberation Sans","fontSize":25,"align":"left","baseline":"alphabetic","color":"#000"},"encoding":{"x":{"field":"p","type":"quantitative"},"y":{"field":"a","type":"quantitative"},"text":{"field":"t"}}},
{"data":{"name":"xlabelA"},"transform":[{"filter":"datum.s=='sub'"}],"mark":{"type":"text","font":"Liberation Sans","fontSize":19,"align":"left","baseline":"alphabetic","color":"#000"},"encoding":{"x":{"field":"p","type":"quantitative"},"y":{"field":"a","type":"quantitative"},"text":{"field":"t"}}},
{"data":{"name":"panelA"},"mark":{"type":"text","font":"Liberation Serif","fontSize":44,"align":"left","baseline":"alphabetic","color":"#000"},"encoding":{"x":{"field":"p","type":"quantitative"},"y":{"field":"a","type":"quantitative"},"text":{"field":"t"}}}
]},
{"width":466,"height":449,"layer":[
{"data":{"name":"cellsB"},"mark":{"type":"rect"},"encoding":{
"x":{"field":"p0","type":"quantitative","scale":{"domain":[-0.0289,1.0231],"nice":false,"zero":false},"axis":{"values":[0,0.2,0.4,0.6,0.8,1],"format":".1f","title":null,"labelPadding":19,"labelFlush":false}},
"x2":{"field":"p1"},
"y":{"field":"a0","type":"quantitative","scale":{"domain":[0.08,0.92],"nice":false,"zero":false},"axis":{"values":[0.2,0.4,0.6,0.8],"format":".1f","title":"α","titlePadding":36,"labelAngle":-90,"labelAlign":"center","labelBaseline":"bottom","labelPadding":20}},
"y2":{"field":"a1"},
"color":{"field":"z","type":"nominal","legend":null,"scale":{"domain":["L01","L02","L03","L04","L05","L06","L07","L08","L09","L10","L10b","L11","L12"],"range":["#7d0025","#a10800","#c42500","#e03e00","#ef6400","#f58500","#f8a500","#f7b93c","#f8cf72","#fbe19b","#fbe5a9","#fef2b4","#ffffc8"]}}}},
{"data":{"name":"linesB"},"mark":{"type":"line","color":"#000","strokeWidth":1.2,"interpolate":"monotone"},"encoding":{"x":{"field":"p","type":"quantitative"},"y":{"field":"a","type":"quantitative"},"detail":{"field":"c"}}},
{"data":{"name":"linesInf"},"mark":{"type":"line","color":"#000","strokeWidth":4,"interpolate":"monotone"},"encoding":{"x":{"field":"p","type":"quantitative"},"y":{"field":"a","type":"quantitative"},"detail":{"field":"c"}}},
{"data":{"name":"labelsB"},"mark":{"type":"text","font":"Liberation Sans","fontSize":16,"color":"#000"},"encoding":{"x":{"field":"p","type":"quantitative"},"y":{"field":"a","type":"quantitative"},"text":{"field":"t"},"angle":{"field":"ang","type":"quantitative","scale":null}}},
{"data":{"name":"frame"},"mark":{"type":"rect","fillOpacity":0,"stroke":"#555","strokeWidth":1},"encoding":{"x":{"field":"p0","type":"quantitative"},"x2":{"field":"p1"},"y":{"field":"a0","type":"quantitative"},"y2":{"field":"a1"}}},
{"data":{"name":"xlabelA"},"transform":[{"filter":"datum.s=='main'"}],"mark":{"type":"text","font":"Liberation Sans","fontSize":25,"align":"left","baseline":"alphabetic","color":"#000"},"encoding":{"x":{"field":"p","type":"quantitative"},"y":{"field":"a","type":"quantitative"},"text":{"field":"t"}}},
{"data":{"name":"xlabelA"},"transform":[{"filter":"datum.s=='sub'"}],"mark":{"type":"text","font":"Liberation Sans","fontSize":19,"align":"left","baseline":"alphabetic","color":"#000"},"encoding":{"x":{"field":"p","type":"quantitative"},"y":{"field":"a","type":"quantitative"},"text":{"field":"t"}}},
{"data":{"name":"panelB"},"mark":{"type":"text","font":"Liberation Serif","fontSize":44,"align":"left","baseline":"alphabetic","color":"#000"},"encoding":{"x":{"field":"p","type":"quantitative"},"y":{"field":"a","type":"quantitative"},"text":{"field":"t"}}}
]}
]}
